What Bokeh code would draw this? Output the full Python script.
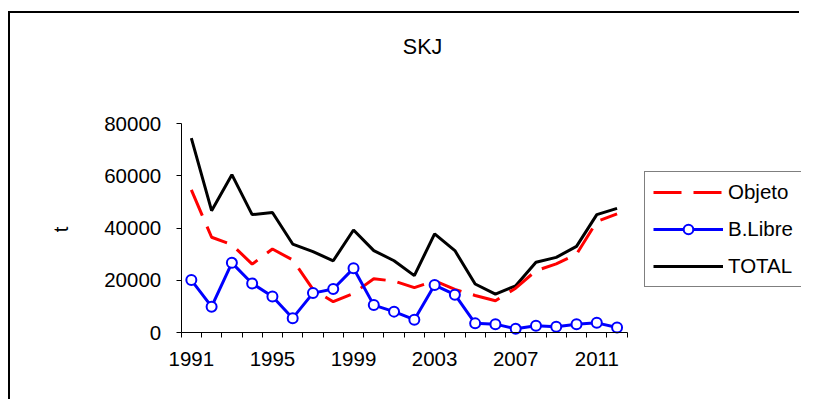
import math
from bokeh.plotting import figure
from bokeh.models import FixedTicker, Legend, LegendItem, Label
from bokeh.embed import file_html
from bokeh.resources import INLINE

years = list(range(1991, 2013))
objeto = [54700, 36500, 33700, 26200, 32000, 27800, 16500, 11800, 15000, 20600, 19700,
          17200, 19800, 16500, 14200, 12200, 17000, 23700, 26300, 30000, 42500, 45500]
blibre = [20100, 9900, 26700, 18800, 13800, 5500, 15100, 16700, 24600, 10500, 8000,
          4900, 18200, 14500, 3500, 3200, 1400, 2600, 2200, 3200, 3700, 1900]
total = [74500, 46700, 60500, 45200, 46000, 33900, 31000, 27500, 39300, 31400, 27500,
         21800, 37800, 31400, 18600, 14700, 17900, 26900, 28800, 33000, 45200, 47600]
x_labels = [1991, 1995, 1999, 2003, 2007, 2011]
y_ticks = [0, 20000, 40000, 60000, 80000]

FONT = "Liberation Sans"
FS = "20.5px"

# geometry (pixels): the frame fills the whole canvas, axes are pinned in data space
W, H = 791, 388
AXIS_X, AXIS_Y = 170.7, 319.0
PX_PER_YEAR = 446 / 22
PX_PER_80K = 208.7

x0 = years[0] - 0.5
x1 = years[-1] + 0.5
x_start = x0 - AXIS_X / PX_PER_YEAR
x_end = x0 + (W - AXIS_X) / PX_PER_YEAR
y_start = -80000 * (H - AXIS_Y) / PX_PER_80K
y_end = 80000 * AXIS_Y / PX_PER_80K

p = figure(width=W, height=H, output_backend="svg", toolbar_location=None,
           x_range=(x_start, x_end), y_range=(y_start, y_end),
           min_border_left=0, min_border_right=0, min_border_top=0,
           min_border_bottom=0)
p.styles = {"border-left": "2px solid black", "border-top": "2px solid black",
            "margin-left": "8px", "margin-top": "11px"}
p.outline_line_color = None
p.grid.visible = False
p.background_fill_color = "white"
p.border_fill_color = "white"

# x axis, pinned at y = 0
p.xaxis.fixed_location = 0
p.xaxis.bounds = (x0, x1)
p.xaxis.ticker = FixedTicker(ticks=x_labels, minor_ticks=[y - 0.5 for y in years] + [x1])
p.xaxis.major_tick_line_color = None
p.xaxis.major_tick_out = 0
p.xaxis.major_tick_in = 0
p.xaxis.minor_tick_in = 0
p.xaxis.minor_tick_out = 5
p.xaxis.minor_tick_line_color = "black"
p.xaxis.axis_line_color = "black"
p.xaxis.major_label_standoff = 14
p.xaxis.major_label_text_font = FONT
p.xaxis.major_label_text_font_size = FS
p.xaxis.major_label_text_color = "black"

# y axis, pinned at the left edge of the category axis
p.yaxis.fixed_location = x0
p.yaxis.bounds = (0, 80000)
p.yaxis.ticker = FixedTicker(ticks=y_ticks, minor_ticks=[])
p.yaxis.major_tick_in = 0
p.yaxis.major_tick_out = 5
p.yaxis.major_tick_line_color = "black"
p.yaxis.axis_line_color = "black"
p.yaxis.major_label_standoff = 15
p.yaxis.major_label_text_font = FONT
p.yaxis.major_label_text_font_size = FS
p.yaxis.major_label_text_color = "black"

r_tot = p.line(years, total, line_color="black", line_width=3)
r_obj = p.line(years, objeto, line_color="red", line_width=3, line_dash="28 12")
r_bl = p.line(years, blibre, line_color="blue", line_width=3)
r_blc = p.scatter(years, blibre, size=10, marker="circle", line_color="blue",
                  line_width=2, fill_color="white")

title = Label(text="SKJ", x=412, y=H - 33.5, x_units="screen", y_units="screen",
              text_align="center", text_baseline="middle",
              text_font=FONT, text_font_size="21.5px", text_color="black")
p.add_layout(title)

ylab = Label(text="t", x=50, y=H - 216, x_units="screen", y_units="screen",
             angle=math.pi / 2, text_align="center", text_baseline="middle",
             text_font=FONT, text_font_size=FS, text_color="black")
p.add_layout(ylab)

legend = Legend(items=[
    LegendItem(label="Objeto", renderers=[r_obj]),
    LegendItem(label="B.Libre", renderers=[r_bl, r_blc]),
    LegendItem(label="TOTAL", renderers=[r_tot]),
], location=(634, H - 274), orientation="vertical",
    glyph_width=70, glyph_height=24, label_height=24, label_standoff=5,
    spacing=13, padding=8, margin=0,
    label_text_font=FONT, label_text_font_size=FS, label_text_color="black",
    border_line_color="black", border_line_width=1, background_fill_color="white",
    background_fill_alpha=1)
p.add_layout(legend, "center")

open("out.html", "w").write(file_html(p, INLINE))
